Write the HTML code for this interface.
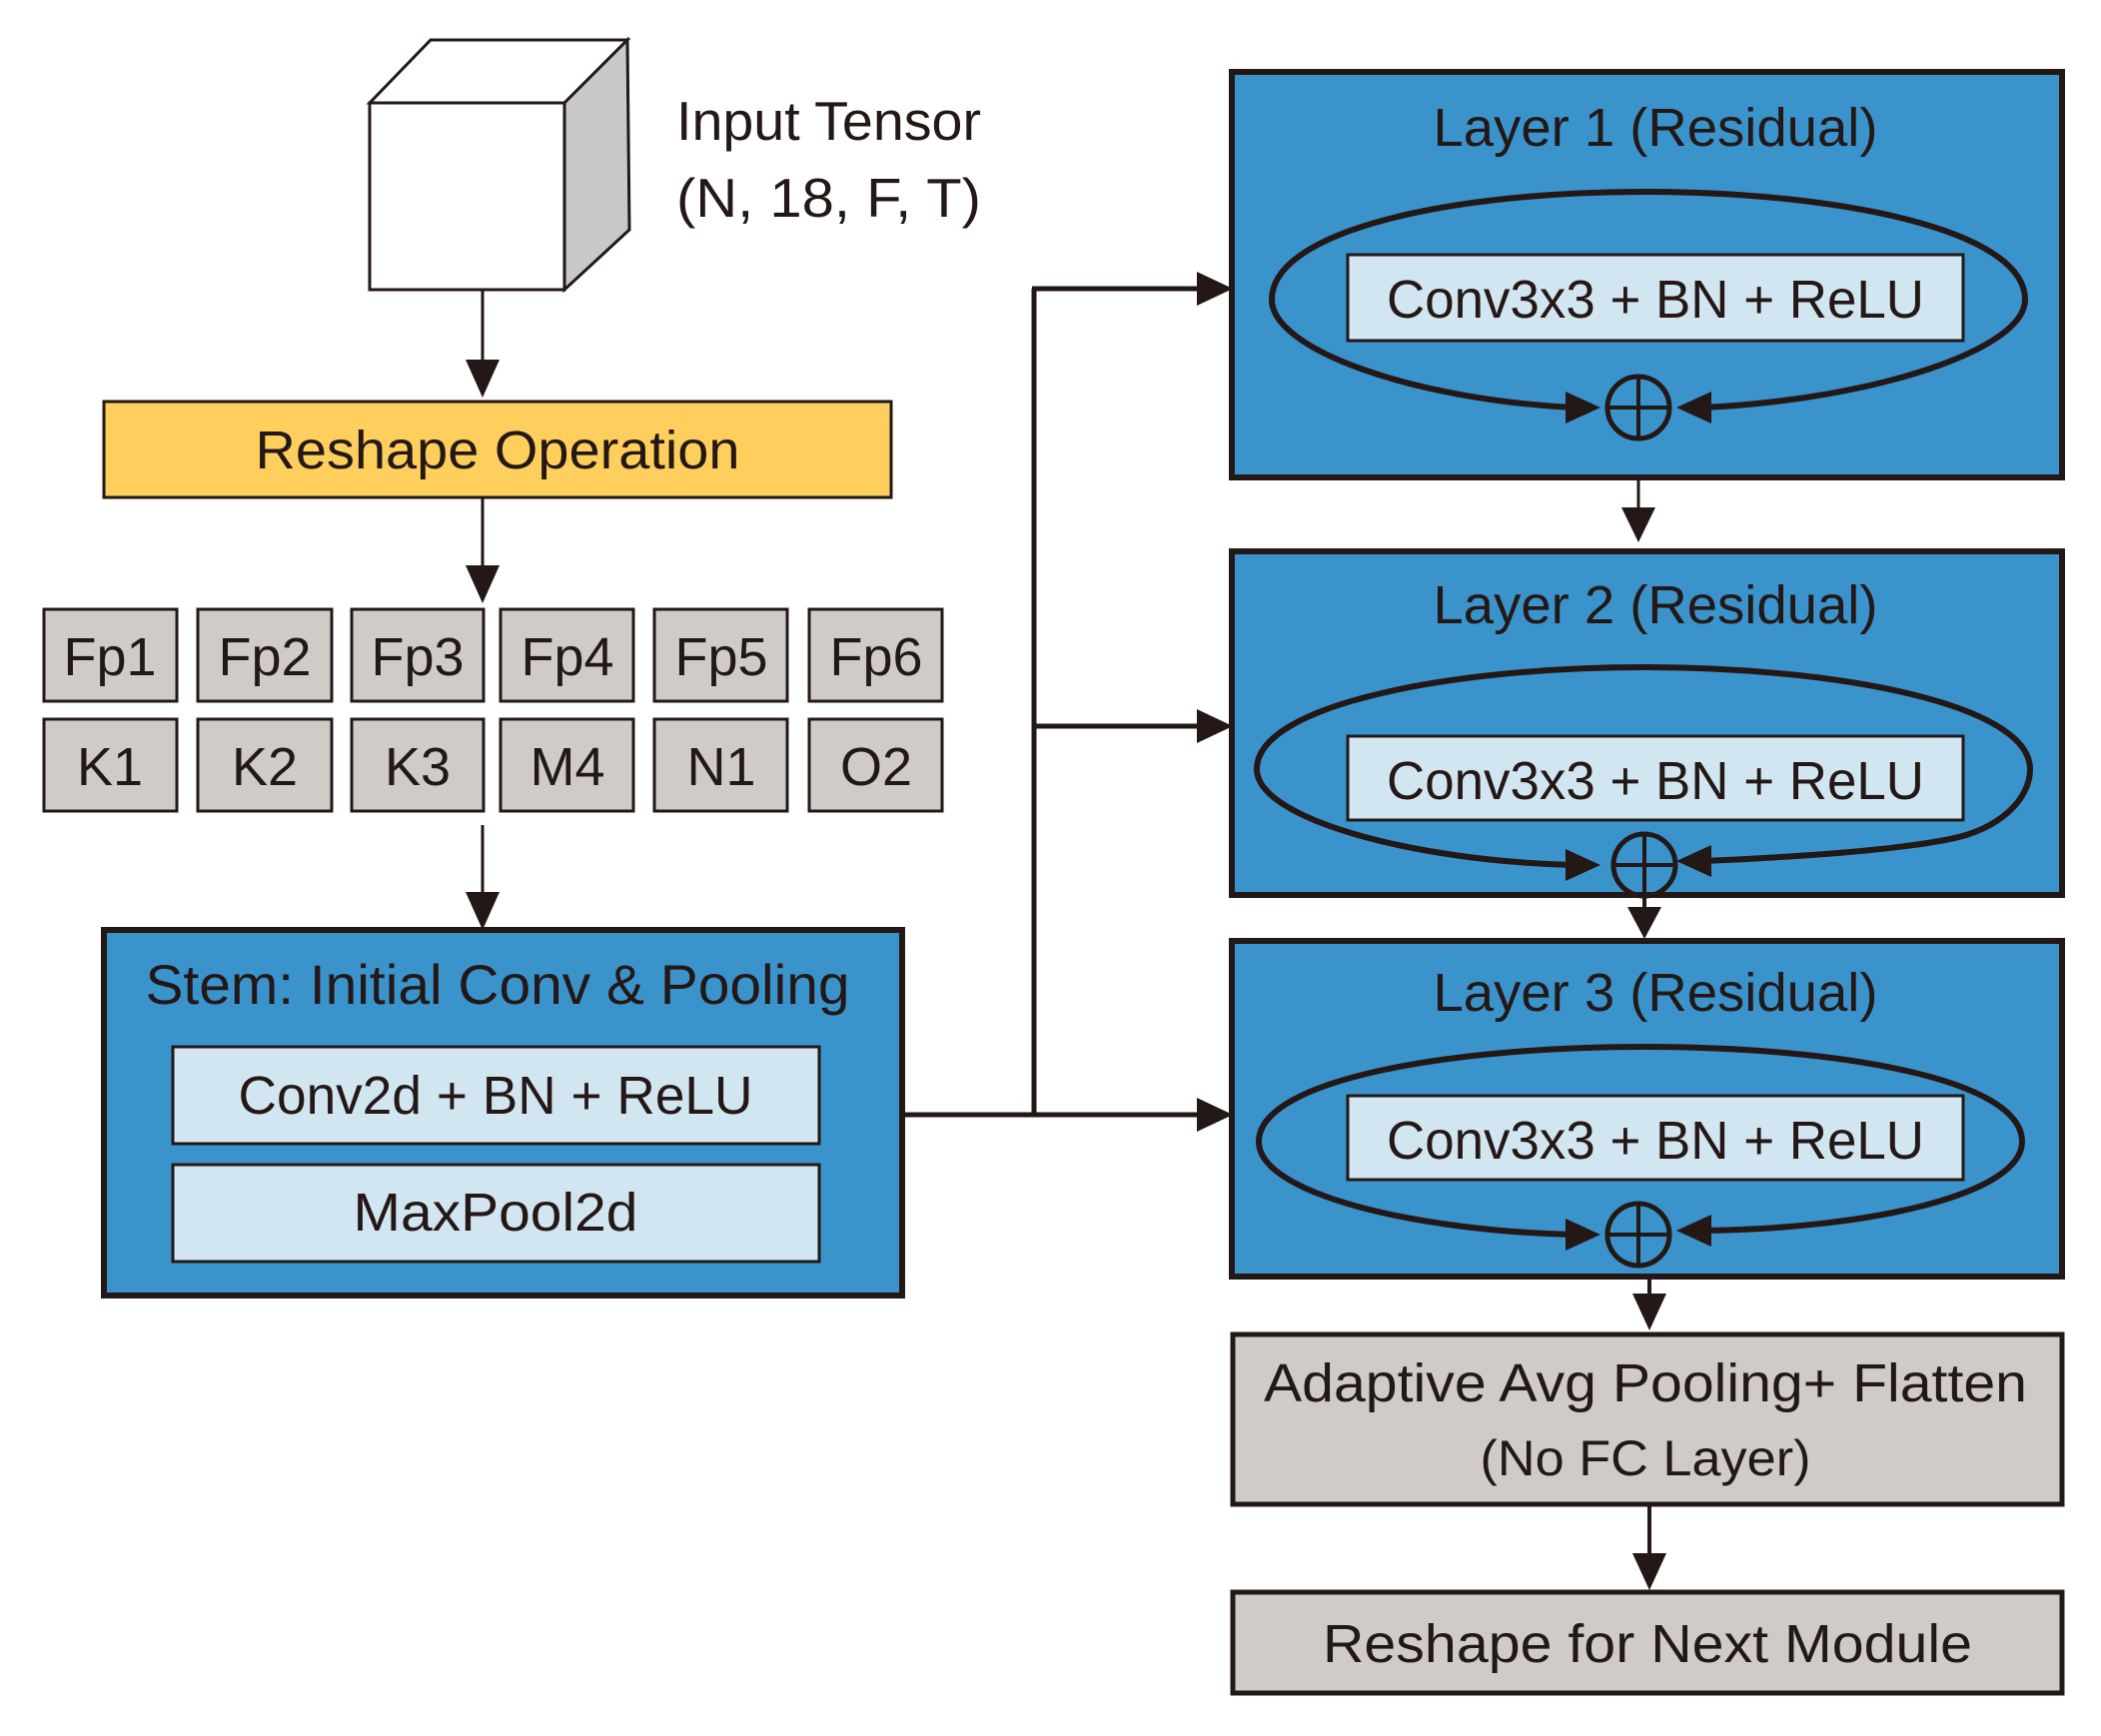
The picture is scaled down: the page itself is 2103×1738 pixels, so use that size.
<!DOCTYPE html>
<html><head><meta charset="utf-8"><style>
html,body{margin:0;padding:0;background:#fff;}
svg{display:block;}
text{font-family:"Liberation Sans",Arial,sans-serif;fill:#231815;}
</style></head><body>
<svg width="2103" height="1738" viewBox="0 0 2103 1738" xmlns="http://www.w3.org/2000/svg">
<g fill="#231815">
<polygon points="370,103 431,40 628,40 565,103" fill="#fff" stroke="#231815" stroke-width="3"/>
<polygon points="565,103 628,40 630,230 565,290" fill="#c8c8c8" stroke="#231815" stroke-width="3"/>
<rect x="370" y="103" width="195" height="187" fill="#fff" stroke="#231815" stroke-width="3"/>
</g>
<text x="677" y="140" font-size="55" textLength="305" lengthAdjust="spacingAndGlyphs">Input Tensor</text>
<text x="677" y="217" font-size="55" textLength="305" lengthAdjust="spacingAndGlyphs">(N, 18, F, T)</text>

<line x1="483" y1="290" x2="483" y2="370" stroke="#231815" stroke-width="3"/>
<polygon points="466,360 500,360 483,398" fill="#231815"/>
<rect x="104" y="402" width="788" height="96" fill="#fecf5c" stroke="#231815" stroke-width="3"/>
<text x="498" y="469" font-size="54" text-anchor="middle" textLength="485" lengthAdjust="spacingAndGlyphs">Reshape Operation</text>
<line x1="483" y1="498" x2="483" y2="575" stroke="#231815" stroke-width="3"/>
<polygon points="466,566 500,566 483,604" fill="#231815"/>

<g fill="#cfccc8" stroke="#231815" stroke-width="3">
<rect x="44" y="610" width="133" height="92"/><rect x="198" y="610" width="134" height="92"/><rect x="352" y="610" width="132" height="92"/><rect x="501" y="610" width="133" height="92"/><rect x="655" y="610" width="133" height="92"/><rect x="810" y="610" width="133" height="92"/>
<rect x="44" y="720" width="133" height="92"/><rect x="198" y="720" width="134" height="92"/><rect x="352" y="720" width="132" height="92"/><rect x="501" y="720" width="133" height="92"/><rect x="655" y="720" width="133" height="92"/><rect x="810" y="720" width="133" height="92"/>
</g>
<g font-size="54" text-anchor="middle">
<text x="110" y="676">Fp1</text><text x="265" y="676">Fp2</text><text x="418" y="676">Fp3</text><text x="568" y="676">Fp4</text><text x="722" y="676">Fp5</text><text x="877" y="676">Fp6</text>
<text x="110" y="786">K1</text><text x="265" y="786">K2</text><text x="418" y="786">K3</text><text x="568" y="786">M4</text><text x="722" y="786">N1</text><text x="877" y="786">O2</text>
</g>
<line x1="483" y1="826" x2="483" y2="902" stroke="#231815" stroke-width="3"/>
<polygon points="466,893 500,893 483,931" fill="#231815"/>

<rect x="104" y="931" width="799" height="366" fill="#3b93cc" stroke="#231815" stroke-width="6"/>
<text x="498" y="1005" font-size="56" text-anchor="middle" textLength="705" lengthAdjust="spacingAndGlyphs">Stem: Initial Conv &amp; Pooling</text>
<rect x="173" y="1048" width="647" height="97" fill="#d2e6f1" stroke="#231815" stroke-width="3"/>
<text x="496" y="1115" font-size="54" text-anchor="middle" textLength="515" lengthAdjust="spacingAndGlyphs">Conv2d + BN + ReLU</text>
<rect x="173" y="1166" width="647" height="97" fill="#d2e6f1" stroke="#231815" stroke-width="3"/>
<text x="496" y="1232" font-size="54" text-anchor="middle" textLength="285" lengthAdjust="spacingAndGlyphs">MaxPool2d</text>

<g stroke="#231815" stroke-width="5" fill="none">
<line x1="905" y1="1116" x2="1205" y2="1116"/>
<line x1="1035" y1="289" x2="1035" y2="1116"/>
<line x1="1033" y1="289" x2="1205" y2="289"/>
<line x1="1035" y1="727" x2="1205" y2="727"/>
</g>
<polygon points="1198,272 1234,289 1198,306" fill="#231815"/>
<polygon points="1198,710 1234,727 1198,744" fill="#231815"/>
<polygon points="1198,1099 1234,1116 1198,1133" fill="#231815"/>

<!-- Layer 1 -->
<rect x="1233" y="72" width="831" height="406" fill="#3b93cc" stroke="#231815" stroke-width="6"/>
<text x="1657" y="146" font-size="54" text-anchor="middle" textLength="445" lengthAdjust="spacingAndGlyphs">Layer 1 (Residual)</text>
<rect x="1349" y="255" width="616" height="86" fill="#d2e6f1" stroke="#231815" stroke-width="3"/>
<text x="1657" y="318" font-size="54" text-anchor="middle" textLength="538" lengthAdjust="spacingAndGlyphs">Conv3x3 + BN + ReLU</text>
<path d="M1575,408 C1415,400 1273,350 1273,300 C1273,230 1455,192 1645,192 C1840,192 2027,230 2027,300 C2027,350 1875,400 1705,408" fill="none" stroke="#231815" stroke-width="6"/>
<polygon points="1567,392 1602,408 1567,424" fill="#231815"/>
<polygon points="1713,392 1678,408 1713,424" fill="#231815"/>
<circle cx="1640" cy="408" r="31" fill="none" stroke="#231815" stroke-width="5"/>
<line x1="1609" y1="408" x2="1671" y2="408" stroke="#231815" stroke-width="4"/>
<line x1="1640" y1="377" x2="1640" y2="439" stroke="#231815" stroke-width="4"/>
<line x1="1640" y1="480" x2="1640" y2="515" stroke="#231815" stroke-width="3"/>
<polygon points="1623,508 1657,508 1640,543" fill="#231815"/>

<!-- Layer 2 -->
<rect x="1233" y="552" width="831" height="344" fill="#3b93cc" stroke="#231815" stroke-width="6"/>
<text x="1657" y="624" font-size="54" text-anchor="middle" textLength="445" lengthAdjust="spacingAndGlyphs">Layer 2 (Residual)</text>
<rect x="1349" y="737" width="616" height="84" fill="#d2e6f1" stroke="#231815" stroke-width="3"/>
<text x="1657" y="800" font-size="54" text-anchor="middle" textLength="538" lengthAdjust="spacingAndGlyphs">Conv3x3 + BN + ReLU</text>
<path d="M1575,866 C1415,862 1258,820 1258,770 C1258,705 1455,668 1645,668 C1840,668 2032,705 2032,770 C2032,800 2002,830 1952,840 C1892,852 1795,858 1705,862" fill="none" stroke="#231815" stroke-width="6"/>
<polygon points="1567,850 1602,866 1567,882" fill="#231815"/>
<polygon points="1713,846 1678,862 1713,878" fill="#231815"/>
<circle cx="1646" cy="866" r="31" fill="none" stroke="#231815" stroke-width="5"/>
<line x1="1615" y1="866" x2="1677" y2="866" stroke="#231815" stroke-width="4"/>
<line x1="1646" y1="835" x2="1646" y2="897" stroke="#231815" stroke-width="4"/>
<line x1="1646" y1="897" x2="1646" y2="915" stroke="#231815" stroke-width="4"/>
<polygon points="1629,908 1663,908 1646,940" fill="#231815"/>

<!-- Layer 3 -->
<rect x="1233" y="942" width="831" height="336" fill="#3b93cc" stroke="#231815" stroke-width="6"/>
<text x="1657" y="1012" font-size="54" text-anchor="middle" textLength="445" lengthAdjust="spacingAndGlyphs">Layer 3 (Residual)</text>
<rect x="1349" y="1097" width="616" height="84" fill="#d2e6f1" stroke="#231815" stroke-width="3"/>
<text x="1657" y="1160" font-size="54" text-anchor="middle" textLength="538" lengthAdjust="spacingAndGlyphs">Conv3x3 + BN + ReLU</text>
<path d="M1575,1236 C1415,1232 1260,1195 1260,1143 C1260,1080 1455,1048 1645,1048 C1840,1048 2024,1080 2024,1143 C2024,1195 1875,1230 1705,1232" fill="none" stroke="#231815" stroke-width="6"/>
<polygon points="1567,1220 1602,1236 1567,1252" fill="#231815"/>
<polygon points="1713,1216 1678,1232 1713,1248" fill="#231815"/>
<circle cx="1640" cy="1236" r="31" fill="none" stroke="#231815" stroke-width="5"/>
<line x1="1609" y1="1236" x2="1671" y2="1236" stroke="#231815" stroke-width="4"/>
<line x1="1640" y1="1205" x2="1640" y2="1267" stroke="#231815" stroke-width="4"/>
<line x1="1651" y1="1279" x2="1651" y2="1300" stroke="#231815" stroke-width="4"/>
<polygon points="1634,1295 1668,1295 1651,1332" fill="#231815"/>

<rect x="1234" y="1336" width="830" height="170" fill="#cfccc8" stroke="#231815" stroke-width="5"/>
<text x="1647" y="1403" font-size="54" text-anchor="middle" textLength="764" lengthAdjust="spacingAndGlyphs">Adaptive Avg Pooling+ Flatten</text>
<text x="1647" y="1477" font-size="50" text-anchor="middle" textLength="331" lengthAdjust="spacingAndGlyphs">(No FC Layer)</text>
<line x1="1651" y1="1508" x2="1651" y2="1560" stroke="#231815" stroke-width="4"/>
<polygon points="1634,1555 1668,1555 1651,1592" fill="#231815"/>

<rect x="1234" y="1594" width="830" height="101" fill="#cfccc8" stroke="#231815" stroke-width="5"/>
<text x="1649" y="1664" font-size="54" text-anchor="middle" textLength="650" lengthAdjust="spacingAndGlyphs">Reshape for Next Module</text>
</svg>
</body></html>
